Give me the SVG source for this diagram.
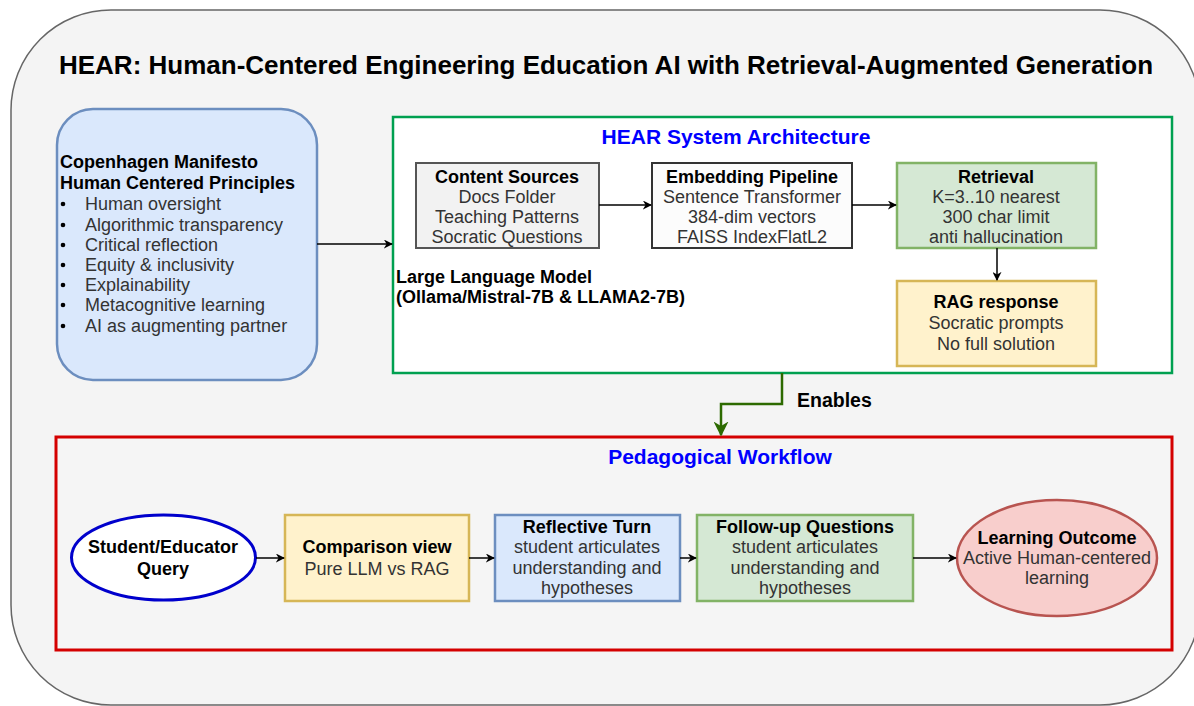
<svg xmlns="http://www.w3.org/2000/svg" width="1194" height="706" viewBox="0 0 1194 706">
  <defs>
    <style>
      text { font-family: "Liberation Sans", Arial, sans-serif; }
      .b { font-weight: bold; fill: #000; }
      .r { fill: #333; }
      .t18 { font-size: 18px; }
      .mid { text-anchor: middle; }
      .conn { fill: none; stroke: #000; stroke-width: 1.5; marker-end: url(#arr); }
      .blue { fill: #dae8fc; stroke: #6c8ebf; stroke-width: 2.5; }
      .green { fill: #d5e8d4; stroke: #82b366; stroke-width: 2.5; }
      .yellow { fill: #fff2cc; stroke: #d6b656; stroke-width: 2.5; }
    </style>
    <marker id="arr" viewBox="0 0 10 10" refX="9" refY="5" markerWidth="9" markerHeight="9" orient="auto" markerUnits="userSpaceOnUse">
      <path d="M0,0 L10,5 L0,10 L3,5 z" fill="#000"/>
    </marker>
    <marker id="arrG" viewBox="0 0 10 10" refX="9" refY="5" markerWidth="15" markerHeight="15" orient="auto" markerUnits="userSpaceOnUse">
      <path d="M0,0 L10,5 L0,10 L3,5 z" fill="#2D6A00"/>
    </marker>
  </defs>

  <!-- outer frame -->
  <rect x="11" y="10" width="1189" height="695" rx="100" ry="100" fill="#f4f4f4" stroke="#666" stroke-width="1.5"/>
  <text x="606" y="74" class="b mid" font-size="26">HEAR: Human-Centered Engineering Education AI with Retrieval-Augmented Generation</text>

  <!-- containers -->
  <g id="architecture">
    <rect x="393" y="117" width="779" height="256" fill="#fff" stroke="#00a050" stroke-width="2.5"/>
    <text x="736" y="144" class="mid" font-size="21" font-weight="bold" fill="#0000ff">HEAR System Architecture</text>
    <text x="396" y="283" class="b t18">Large Language Model</text>
    <text x="396" y="303" class="b t18">(Ollama/Mistral-7B &amp; LLAMA2-7B)</text>
  </g>

  <g id="workflow">
    <rect x="56" y="437" width="1116" height="213" fill="#f5f5f5" stroke="#d40000" stroke-width="3"/>
    <text x="720" y="464" class="mid" font-size="21" font-weight="bold" fill="#0000ff">Pedagogical Workflow</text>
  </g>

  <!-- principles -->
  <g id="principles">
    <rect x="57" y="109" width="260" height="271" rx="36" ry="36" class="blue"/>
    <text x="60" y="168" class="b t18">Copenhagen Manifesto</text>
    <text x="60" y="189" class="b t18">Human Centered Principles</text>
    <g fill="#000">
      <circle cx="63" cy="204" r="2.3"/>
      <circle cx="63" cy="225" r="2.3"/>
      <circle cx="63" cy="245" r="2.3"/>
      <circle cx="63" cy="265" r="2.3"/>
      <circle cx="63" cy="285" r="2.3"/>
      <circle cx="63" cy="305" r="2.3"/>
      <circle cx="63" cy="326" r="2.3"/>
    </g>
    <g class="r t18">
      <text x="85" y="210">Human oversight</text>
      <text x="85" y="231">Algorithmic transparency</text>
      <text x="85" y="251">Critical reflection</text>
      <text x="85" y="271">Equity &amp; inclusivity</text>
      <text x="85" y="291">Explainability</text>
      <text x="85" y="311">Metacognitive learning</text>
      <text x="85" y="332">AI as augmenting partner</text>
    </g>
  </g>

  <g id="content-sources">
    <rect x="416" y="163" width="183" height="85" fill="#f2f2f2" stroke="#555" stroke-width="2"/>
    <text x="507" y="183" class="b mid t18">Content Sources</text>
    <text x="507" y="203" class="r mid t18">Docs Folder</text>
    <text x="507" y="223" class="r mid t18">Teaching Patterns</text>
    <text x="507" y="243" class="r mid t18">Socratic Questions</text>
  </g>

  <g id="embedding">
    <rect x="652" y="163" width="200" height="85" fill="#fcfcfc" stroke="#333" stroke-width="2"/>
    <text x="752" y="183" class="b mid t18">Embedding Pipeline</text>
    <text x="752" y="203" class="r mid t18">Sentence Transformer</text>
    <text x="752" y="223" class="r mid t18">384-dim vectors</text>
    <text x="752" y="243" class="r mid t18">FAISS IndexFlatL2</text>
  </g>

  <g id="retrieval">
    <rect x="897" y="163" width="199" height="85" class="green"/>
    <text x="996" y="183" class="b mid t18">Retrieval</text>
    <text x="996" y="203" class="r mid t18">K=3..10 nearest</text>
    <text x="996" y="223" class="r mid t18">300 char limit</text>
    <text x="996" y="243" class="r mid t18">anti hallucination</text>
  </g>

  <g id="rag-response">
    <rect x="897" y="281" width="199" height="85" class="yellow"/>
    <text x="996" y="308" class="b mid t18">RAG response</text>
    <text x="996" y="329" class="r mid t18">Socratic prompts</text>
    <text x="996" y="350" class="r mid t18">No full solution</text>
  </g>

  <g id="query">
    <ellipse cx="163.5" cy="557.5" rx="92" ry="42.5" fill="#fff" stroke="#0000cc" stroke-width="3"/>
    <text x="163" y="553" class="b mid t18">Student/Educator</text>
    <text x="163" y="575" class="b mid t18">Query</text>
  </g>

  <g id="comparison">
    <rect x="285" y="515" width="184" height="86" class="yellow"/>
    <text x="377" y="553" class="b mid t18">Comparison view</text>
    <text x="377" y="575" class="r mid t18">Pure LLM vs RAG</text>
  </g>

  <g id="reflective">
    <rect x="495" y="515" width="185" height="86" class="blue"/>
    <text x="587" y="533" class="b mid t18">Reflective Turn</text>
    <text x="587" y="553" class="r mid t18">student articulates</text>
    <text x="587" y="574" class="r mid t18">understanding and</text>
    <text x="587" y="594" class="r mid t18">hypotheses</text>
  </g>

  <g id="followup">
    <rect x="697" y="515" width="216" height="86" class="green"/>
    <text x="805" y="533" class="b mid t18">Follow-up Questions</text>
    <text x="805" y="553" class="r mid t18">student articulates</text>
    <text x="805" y="574" class="r mid t18">understanding and</text>
    <text x="805" y="594" class="r mid t18">hypotheses</text>
  </g>

  <g id="outcome">
    <ellipse cx="1057" cy="558" rx="100" ry="58" fill="#f8cecc" stroke="#b85450" stroke-width="2.5"/>
    <text x="1057" y="544" class="b mid t18">Learning Outcome</text>
    <text x="1057" y="564" class="r mid t18">Active Human-centered</text>
    <text x="1057" y="584" class="r mid t18">learning</text>
  </g>

  <!-- connectors -->
  <g id="connectors">
    <path class="conn" d="M317,244 H392"/>
    <path class="conn" d="M599,205 H651"/>
    <path class="conn" d="M852,205 H896"/>
    <path class="conn" d="M997,248 V280"/>
    <path d="M782,373 V404 H721 V435" fill="none" stroke="#2D6A00" stroke-width="2.5" marker-end="url(#arrG)"/>
    <text x="797" y="407" class="b" font-size="19.5">Enables</text>
    <path class="conn" d="M256,558 H284"/>
    <path class="conn" d="M469,558 H494"/>
    <path class="conn" d="M680,558 H696"/>
    <path class="conn" d="M913,558 H956"/>
  </g>
</svg>
